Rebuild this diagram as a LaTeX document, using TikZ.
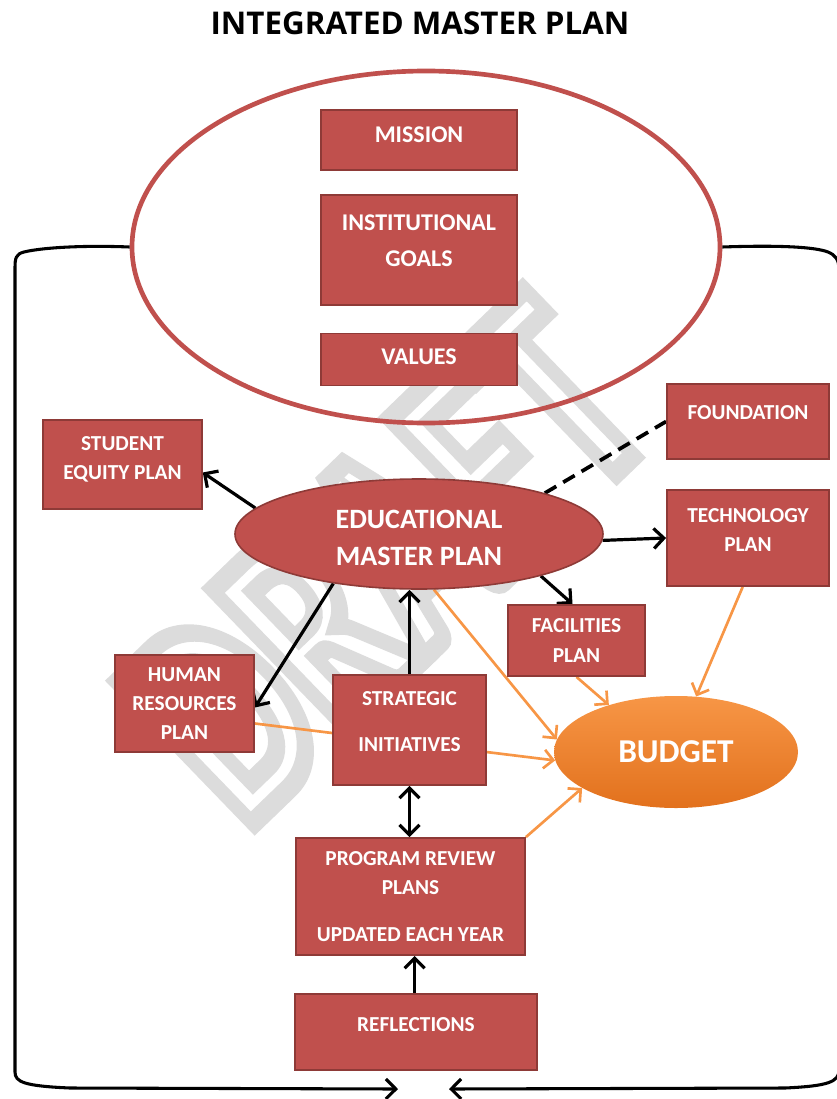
\documentclass[tikz,border=0pt]{standalone}
\usepackage{fontspec}
\setmainfont{Carlito}
\newfontfamily\headfont{Open Sans}
\usetikzlibrary{shapes.geometric,arrows.meta}
\definecolor{planred}{HTML}{C0504D}
\definecolor{planedge}{HTML}{8E3A37}
\definecolor{budgetorange}{HTML}{F79646}
\definecolor{budgetdark}{HTML}{E2711D}
\definecolor{markgray}{HTML}{DCDCDC}
\pgfdeclarelayer{mark}
\pgfdeclarelayer{links}
\pgfsetlayers{mark,links,main}
% hollow letters: stroke the glyph outlines only
\newcommand\hollow[1]{\special{pdf:literal direct 1 Tr 15 w}#1\special{pdf:literal direct 0 Tr}}
\tikzset{
  plan/.style={rectangle, fill=planred, draw=planedge, line width=1.4pt, text=white,
    font=\fontsize{16}{22}\selectfont\bfseries, align=center, inner sep=0pt},
  topplan/.style={plan, minimum width=147pt, font=\fontsize{18}{22}\selectfont\bfseries},
  flow/.style={line width=2.4pt, ->},
  feed/.style={draw=budgetorange, line width=2pt, -{Straight Barb[length=7pt,width=14pt]}},
  wmark/.style={font=\fontsize{226}{226}\selectfont\bfseries, text=markgray, rotate=44, xscale=0.7,
    anchor=base west, inner sep=0pt},
}
\begin{document}
\begin{tikzpicture}[x=0.75pt, y=-0.75pt, >={Straight Barb[length=7.5pt,width=15pt]}]
\useasboundingbox (0,0) rectangle (837,1099);

\node[font=\headfont\fontsize{23.5}{26}\selectfont\bfseries] (title) at (420,23) {INTEGRATED MASTER PLAN};

% watermark behind everything
\begin{pgfonlayer}{mark}
  \node[wmark] (draft) at (244,832) {\hollow{DRAFT}};
\end{pgfonlayer}

% mission, goals and values
\node[ellipse, draw=planred, line width=3.5pt, minimum width=441pt, minimum height=264pt] (core) at (426,247) {};
\node[topplan, minimum height=45pt, text depth=7.5pt] (mission) at (419,140) {MISSION};
\node[topplan, minimum height=82.5pt, text depth=13.5pt] (goals) at (419,250) {INSTITUTIONAL\\[5pt]GOALS};
\node[topplan, minimum height=39pt, text depth=4.5pt] (values) at (419,359.5) {VALUES};

% plans
\node[ellipse, fill=planred, draw=planedge, line width=1.2pt, minimum width=276pt, minimum height=82.5pt,
  inner sep=0pt, text=white, align=center, text height=48pt, font=\fontsize{21}{28}\selectfont\bfseries] (emp) at (419,534)
  {EDUCATIONAL\\MASTER PLAN};
\node[plan, minimum width=119pt, minimum height=66.75pt, text depth=10pt] (stud) at (122.5,464.5) {STUDENT\\EQUITY PLAN};
\node[plan, minimum width=121.5pt, minimum height=56.25pt, text depth=14pt] (found) at (748,421.5) {FOUNDATION};
\node[plan, minimum width=121.5pt, minimum height=72pt, text depth=12pt] (tech) at (748,538) {TECHNOLOGY\\PLAN};
\node[plan, minimum width=102.75pt, minimum height=53.25pt] (fac) at (576.5,640.5) {FACILITIES\\PLAN};
\node[plan, minimum width=104.25pt, minimum height=72.75pt] (hr) at (184.5,703.5) {HUMAN\\RESOURCES\\PLAN};
\node[plan, minimum width=114.75pt, minimum height=82.5pt, text depth=13pt] (strat) at (409.5,730) {STRATEGIC\\[12pt]INITIATIVES};
\node[plan, minimum width=171.75pt, minimum height=87.75pt] (prog) at (410.5,896.5) {PROGRAM REVIEW\\PLANS\\[13pt]UPDATED EACH YEAR};
\node[plan, minimum width=181.5pt, minimum height=57pt, text depth=12pt] (refl) at (416,1032) {REFLECTIONS};
\node[ellipse, top color=budgetorange, bottom color=budgetdark, minimum width=183pt, minimum height=84pt,
  inner sep=0pt, text=white, font=\fontsize{25}{28}\selectfont\bfseries] (budget) at (676,752) {BUDGET};

% connectors
\begin{pgfonlayer}{links}
  \draw[flow] (emp.171) -- ([yshift=-6pt]stud.east);
  \draw[line width=2.8pt, dash pattern=on 10pt off 6pt] (emp.18) -- (found.west);
  \draw[flow] (emp.358) -- (tech.west);
  \draw[flow] (emp.341) -- ([xshift=-3pt]fac.north);
  \draw[flow] (emp.210) -- ([yshift=-3pt]hr.east);
  \draw[flow] (strat.north) -- (strat.north |- emp.south);
  \draw[flow, <->] (strat.south) -- (strat.south |- prog.north);
  \draw[flow] ([xshift=-1pt]refl.north) -- ([xshift=-1pt]refl.north |- prog.south);
  \draw[feed] (emp.285) -- (budget.174);
  \draw[feed] ([yshift=-15pt]hr.east) -- (budget.184);
  \draw[feed] (fac.south) -- (budget.145);
  \draw[feed] ([xshift=-4pt]tech.south) -- (budget.70);
  \draw[feed] (prog.north east) -- (budget.201);
\end{pgfonlayer}

% loop round the sides
\draw[flow, line width=2.3pt] (core.west) .. controls (80,245) and (40,248) .. (24,252)
  .. controls (16,254) and (15,258) .. (15,268) -- (15,1072)
  .. controls (15,1082) and (24,1086) .. (70,1088) -- (398,1089);
\draw[flow, line width=2.3pt] (core.east) .. controls (780,245) and (815,247) .. (828,252)
  .. controls (835,255) and (839,259) .. (839,270) -- (839,1070)
  .. controls (839,1082) and (828,1086) .. (785,1088) -- (449,1089);
\end{tikzpicture}
\end{document}
